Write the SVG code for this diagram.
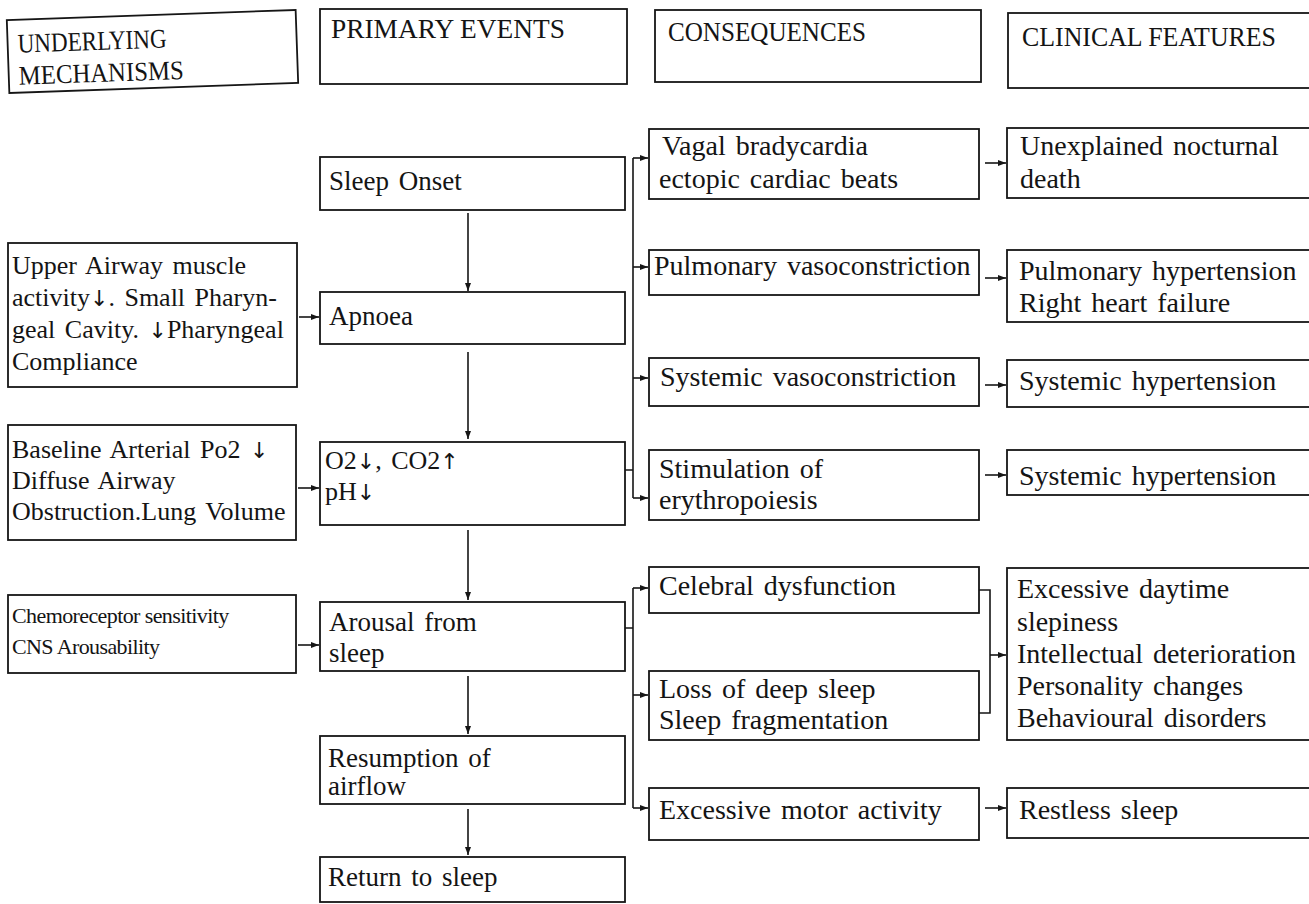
<svg xmlns="http://www.w3.org/2000/svg" width="1309" height="904" viewBox="0 0 1309 904">
<style>
.box{fill:none;stroke:#161616;stroke-width:1.8}
.t,.t2,.t3,.h,.s{font-family:"Liberation Serif","Times New Roman",serif;fill:#141414}
.t{font-size:26px;word-spacing:3px}
.t2{font-size:27px;word-spacing:3px}
.t3{font-size:28px;word-spacing:3px}
.h{font-size:27px}
.s{font-size:22px;letter-spacing:-0.6px}
.ar{font-family:"DejaVu Sans",sans-serif;font-size:22px;fill:#141414}
.c{fill:none;stroke:#161616;stroke-width:1.6}
.a{marker-end:url(#ah)}
</style>
<defs>
<marker id="ah" viewBox="0 0 8 8" refX="8" refY="4" markerWidth="8" markerHeight="8" markerUnits="userSpaceOnUse" orient="auto"><path d="M0,1 L8,4 L0,7 z" fill="#161616"/></marker>
</defs>
<rect width="1309" height="904" fill="#fff"/>

<g id="hdr-mechanisms" transform="rotate(-2 152 52)">
<rect class="box" x="8" y="15" width="289" height="73"/>
<text class="h" x="18" y="48" textLength="149" lengthAdjust="spacingAndGlyphs">UNDERLYING</text>
<text class="h" x="18" y="80" textLength="165" lengthAdjust="spacingAndGlyphs">MECHANISMS</text>
</g>
<g id="hdr-primary"><rect class="box" x="320" y="9" width="307" height="75"/><text class="h" x="331" y="38" textLength="234" lengthAdjust="spacingAndGlyphs">PRIMARY EVENTS</text></g>
<g id="hdr-consequences"><rect class="box" x="655" y="10" width="326" height="72"/><text class="h" x="668" y="41" textLength="198" lengthAdjust="spacingAndGlyphs">CONSEQUENCES</text></g>
<g id="hdr-clinical"><rect class="box" x="1008" y="13" width="310" height="75"/><text class="h" x="1022" y="46" textLength="254" lengthAdjust="spacingAndGlyphs">CLINICAL FEATURES</text></g>

<g id="mech-airway"><rect class="box" x="8" y="243" width="289" height="144"/>
<text class="t" x="12" y="274">Upper Airway muscle</text>
<text class="t" x="12" y="306">activity<tspan class="ar">↓</tspan>. Small Pharyn-</text>
<text class="t" x="12" y="338">geal Cavity. <tspan class="ar">↓</tspan>Pharyngeal</text>
<text class="t" x="12" y="370">Compliance</text></g>
<g id="mech-baseline"><rect class="box" x="8" y="425" width="288" height="115"/>
<text class="t" x="12" y="458">Baseline Arterial Po2 <tspan class="ar">↓</tspan></text>
<text class="t" x="12" y="489">Diffuse Airway</text>
<text class="t" x="12" y="520">Obstruction.Lung Volume</text></g>
<g id="mech-chemo"><rect class="box" x="8" y="595" width="288" height="78"/>
<text class="s" x="12" y="623">Chemoreceptor sensitivity</text>
<text class="s" x="12" y="654">CNS Arousability</text></g>

<g id="ev-onset"><rect class="box" x="320" y="157" width="305" height="53"/><text class="t2" x="329" y="190">Sleep Onset</text></g>
<g id="ev-apnoea"><rect class="box" x="320" y="292" width="305" height="52"/><text class="t2" x="329" y="325">Apnoea</text></g>
<g id="ev-gases"><rect class="box" x="320" y="442" width="305" height="83"/><text class="t" x="325" y="469">O2<tspan class="ar">↓</tspan>, CO2<tspan class="ar">↑</tspan></text><text class="t" x="325" y="500">pH<tspan class="ar">↓</tspan></text></g>
<g id="ev-arousal"><rect class="box" x="320" y="602" width="305" height="69"/><text class="t2" x="329" y="631">Arousal from</text><text class="t2" x="329" y="662">sleep</text></g>
<g id="ev-resumption"><rect class="box" x="320" y="736" width="305" height="68"/><text class="t2" x="328" y="767">Resumption of</text><text class="t2" x="328" y="795">airflow</text></g>
<g id="ev-return"><rect class="box" x="320" y="857" width="305" height="45"/><text class="t2" x="328" y="886">Return to sleep</text></g>

<g id="co-vagal"><rect class="box" x="649" y="129" width="330" height="70"/><text class="t3" x="662" y="155">Vagal bradycardia</text><text class="t3" x="659" y="188">ectopic cardiac beats</text></g>
<g id="co-pulm"><rect class="box" x="649" y="250" width="330" height="45"/><text class="t3" x="654" y="275">Pulmonary vasoconstriction</text></g>
<g id="co-sysvaso"><rect class="box" x="649" y="358" width="330" height="48"/><text class="t3" x="660" y="386">Systemic vasoconstriction</text></g>
<g id="co-stim"><rect class="box" x="649" y="450" width="330" height="70"/><text class="t3" x="659" y="478">Stimulation of</text><text class="t3" x="659" y="509">erythropoiesis</text></g>
<g id="co-celebral"><rect class="box" x="649" y="567" width="330" height="46"/><text class="t3" x="659" y="595">Celebral dysfunction</text></g>
<g id="co-loss"><rect class="box" x="649" y="671" width="330" height="69"/><text class="t3" x="659" y="698">Loss of deep sleep</text><text class="t3" x="659" y="729">Sleep fragmentation</text></g>
<g id="co-motor"><rect class="box" x="649" y="788" width="330" height="52"/><text class="t3" x="659" y="819">Excessive motor activity</text></g>

<g id="cf-death"><rect class="box" x="1007" y="128" width="310" height="70"/><text class="t3" x="1020" y="155">Unexplained nocturnal</text><text class="t3" x="1020" y="188">death</text></g>
<g id="cf-pulmhyp"><rect class="box" x="1007" y="250" width="310" height="72"/><text class="t3" x="1019" y="280">Pulmonary hypertension</text><text class="t3" x="1019" y="312">Right heart failure</text></g>
<g id="cf-syshyp1"><rect class="box" x="1007" y="360" width="310" height="47"/><text class="t3" x="1019" y="390">Systemic hypertension</text></g>
<g id="cf-syshyp2"><rect class="box" x="1007" y="450" width="310" height="45"/><text class="t3" x="1019" y="485">Systemic hypertension</text></g>
<g id="cf-neuro"><rect class="box" x="1007" y="568" width="310" height="172"/>
<text class="t3" x="1017" y="598">Excessive daytime</text>
<text class="t3" x="1017" y="631">slepiness</text>
<text class="t3" x="1017" y="663">Intellectual deterioration</text>
<text class="t3" x="1017" y="695">Personality changes</text>
<text class="t3" x="1017" y="727">Behavioural disorders</text></g>
<g id="cf-restless"><rect class="box" x="1007" y="788" width="310" height="50"/><text class="t3" x="1019" y="819">Restless sleep</text></g>

<g id="connectors">
<path class="c a" d="M468,213 V291"/>
<path class="c a" d="M468,352 V439"/>
<path class="c a" d="M468,530 V600"/>
<path class="c a" d="M468,676 V734"/>
<path class="c a" d="M468,809 V855"/>
<path class="c a" d="M299,317 H319"/>
<path class="c a" d="M298,488 H319"/>
<path class="c a" d="M298,645 H319"/>
<path class="c" d="M625,470 H633 M633,158 V498 M625,628 H633 M633,588 V808"/>
<path class="c a" d="M633,158 H648"/>
<path class="c a" d="M633,267 H648"/>
<path class="c a" d="M633,378 H648"/>
<path class="c a" d="M633,498 H648"/>
<path class="c a" d="M633,588 H648"/>
<path class="c a" d="M633,695 H648"/>
<path class="c a" d="M633,808 H648"/>
<path class="c a" d="M985,163 H1006"/>
<path class="c a" d="M985,278 H1006"/>
<path class="c a" d="M985,385 H1006"/>
<path class="c a" d="M985,475 H1006"/>
<path class="c" d="M979,590 H990 V713 H979"/>
<path class="c a" d="M990,655 H1006"/>
<path class="c a" d="M985,808 H1006"/>
</g>
</svg>
